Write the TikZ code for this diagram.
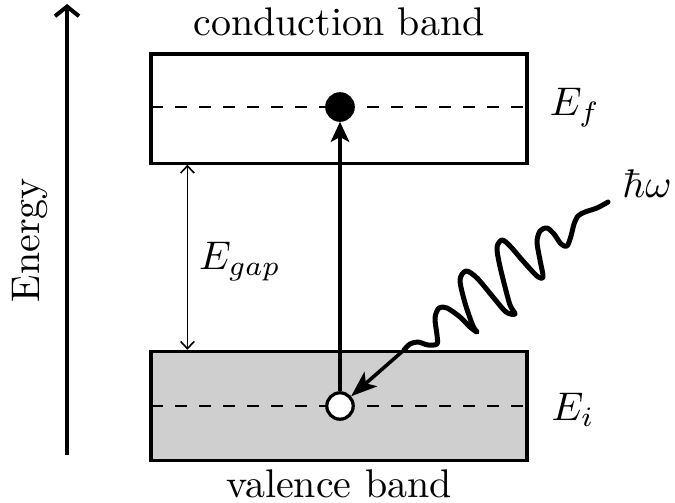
\documentclass[tikz,border=0pt]{standalone}
\usetikzlibrary{arrows.meta}
\begin{document}
\begin{tikzpicture}[x=0.25pt,y=-0.25pt,
  band/.style={draw,line width=0.8pt,minimum width=94pt,minimum height=27.3pt,inner sep=0pt},
  level/.style={dashed,dash pattern=on 3pt off 3pt,line width=0.5pt},
  particle/.style={circle,draw,line width=0.8pt,minimum size=6.6pt,inner sep=0pt},
  transition/.style={line width=1pt,-{Stealth[length=5pt,width=4.6pt,inset=1.2pt]}},
  energyaxis/.style={line width=1pt,-{Straight Barb[length=2.4pt,width=6pt]}},
  gaparrow/.style={line width=0.4pt,{Straight Barb[length=1.8pt,width=3.4pt]}-{Straight Barb[length=1.8pt,width=3.4pt]}},
  wave/.style={line width=1.25pt,line cap=round,line join=round},
  photonarrow/.style={line width=0.9pt,-{Stealth[length=6.5pt,width=4.8pt,inset=1.6pt]}}
]
\useasboundingbox (0,0) rectangle (675,503);
% bands
\node[band] (cb) at (339,108.5) {};
\node[band,fill=black!19] (vb) at (339,406) {};
% levels
\draw[level] (151,107) -- (527,107);
\draw[level] (151,406) -- (527,406);
% particles
\node[particle,fill=black] (el) at (340,107) {};
\node[particle,fill=white] (hole) at (340,406) {};
\draw[transition] (hole) -- (el);
% energy axis
\coordinate (ea) at (67,455);
\coordinate (eb) at (67,4);
\draw[energyaxis] (ea) -- (eb);
\node[rotate=90] (energy) at (30,240) {Energy};
% gap
\draw[gaparrow] ([xshift=9.5pt]cb.south west) -- ([xshift=9.5pt]vb.north west);
\node (egap) at (240,262) {$E_{gap}$};
% labels
\node (cbl) at (339,22) {conduction band};
\node (vbl) at (339,484) {valence band};
\node (ef) at (575,108) {$E_f$};
\node (ei) at (573,410) {$E_i$};
\node (hw) at (647,184) {$\hbar\omega$};
% photon
\coordinate (wA) at (608,202);
\coordinate (wB) at (404,350);
\draw[wave] plot[smooth,tension=0.5] coordinates {
  (608,202) (597,208) (585,212) (578,216) (574,224) (571,236) (567,246)
  (561,244) (554,234) (547,228) (540,231) (537,242) (540,260) (543,277)
  (537,276) (523,261) (510,246) (502,240) (497,247) (499,262) (504,283)
  (510,305) (515,314) (506,312) (493,297) (477,278) (466,271) (460,280)
  (465,303) (473,326) (477,332) (470,327) (460,317) (447,308) (439,308)
  (435,318) (437,335) (437,344) (428,345) (418,342) (410,344) (404,350)};
\draw[photonarrow] (wB) -- (hole);
\end{tikzpicture}
\end{document}
